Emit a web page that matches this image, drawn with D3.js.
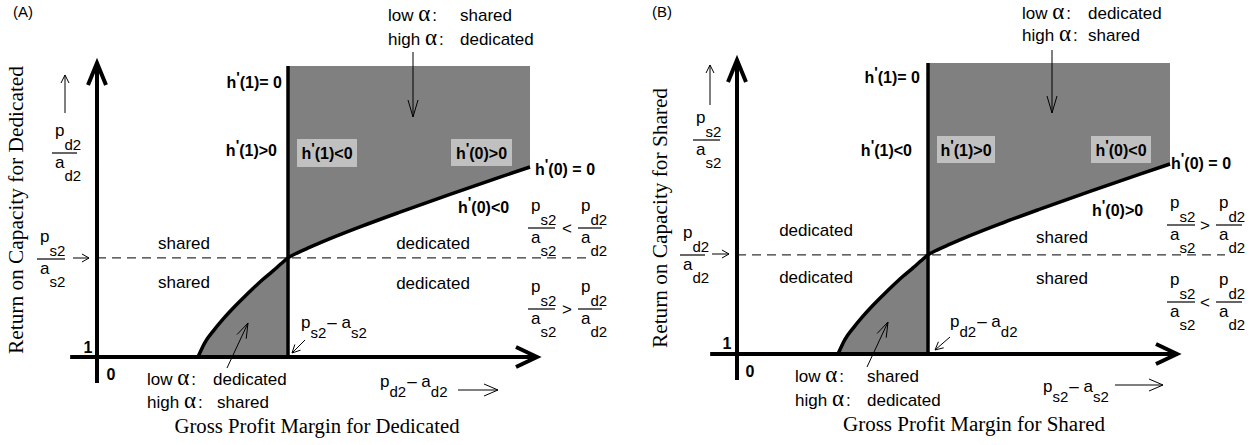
<!DOCTYPE html>
<html><head><meta charset="utf-8">
<script src="https://cdn.jsdelivr.net/npm/d3@7"></script>
<style>body{margin:0;background:#fff}svg{display:block}</style>
</head><body><svg id="c" width="1256" height="445"></svg>
<script>
// ---------- data ----------
const panelTags = ["(A)", "(B)"];
const yTitles = ["Return on Capacity for Dedicated", "Return on Capacity for Shared"];
const xTitles = ["Gross Profit Margin for Dedicated", "Gross Profit Margin for Shared"];
// boundary curve (abstract units): lower part up to the h'(1)=0 line, then h'(0)=0
const curveX = [2.295, 2.455, 2.636, 2.864, 3.091, 3.318, 3.545, 3.773, 4.000, 4.182, 4.341,
                4.568, 4.841, 5.295, 5.977, 6.886, 8.023, 9.159, 9.841];
const curveY = [1.000, 1.350, 1.610, 1.900, 2.160, 2.400, 2.630, 2.850, 3.050, 3.220, 3.360,
                3.486, 3.614, 3.817, 4.098, 4.450, 4.874, 5.283, 5.524];
const xBreak = 4.341, yBreak = 3.36, yTop = 7.93, xRight = 9.841;
const tickLabels = ["1", "0"];
const regionLeft = ["shared", "dedicated"];
const regionRight = ["dedicated", "shared"];
const topLow = ["shared", "dedicated"], topHigh = ["dedicated", "shared"];
const botLow = ["dedicated", "shared"], botHigh = ["shared", "dedicated"];
const hLeftLabels = [["h'(1)= 0", "h'(1)>0"], ["h'(1)= 0", "h'(1)<0"]];
const hBoxLabels = [["h'(1)<0", "h'(0)>0"], ["h'(1)>0", "h'(0)<0"]];
const hCurveLabels = [["h'(0) = 0", "h'(0)<0"], ["h'(0) = 0", "h'(0)>0"]];
const relSigns = [["<", ">"], [">", "<"]];
const axisRatio = [["p", "d2", "a", "d2"], ["p", "s2", "a", "s2"]];
const dashRatio = [["p", "s2", "a", "s2"], ["p", "d2", "a", "d2"]];
const nearMargin = [["p", "s2", "a", "s2"], ["p", "d2", "a", "d2"]];
const axisMargin = [["p", "d2", "a", "d2"], ["p", "s2", "a", "s2"]];

// ---------- setup ----------
const svg = d3.select("#c");
const SANS = "'Liberation Sans', Arial, sans-serif";
const SERIF = "'Liberation Serif', 'Times New Roman', serif";
const x = d3.scaleLinear().domain([0, 10]).range([97, 537]);
const y = d3.scaleLinear().domain([1, 8]).range([357, 63]);

const layouts = [
  { shift: [0, 0], tag: [13, 17], yTitle: [23, 210, 288], up: [65, 113, 75],
    axisFrac: [52, 77, 153], dashFrac: [37, 65, 259], dashArrow: [73, 89, 258],
    one: [88, 353], zero: [111, 380], regL: [184, 249, 288], regR: [433, 249, 289],
    rel: [528, 555, 567, 578, 602, 228, 309], hLeft: [282, 88, 277, 156],
    boxes: [[297, 139, 60, 28], [451, 139, 61, 27]], hCurve: [[535, 175], [458, 213]],
    top: [388, 460, 21, 45], topArrow: [413, 52, 413, 117],
    bot: [147, 213, 217, 385, 408], botArrow: [227, 368, 248, 323],
    near: [301, 328], nearArrow: [305, 340, 292, 353],
    axm: [380, 387], axmArrow: [458, 498, 390], xTitle: [317, 433, 285], dashEnd: 592 },
  { shift: [640, -3], tag: [652, 17], yTitle: [667, 218, 260], up: [710, 105, 65],
    axisFrac: [693, 720, 140], dashFrac: [680, 705, 255], dashArrow: [712, 729, 254],
    one: [727, 349], zero: [750, 377], regL: [816, 236, 283], regR: [1062, 243, 284],
    rel: [1167, 1195, 1205, 1216, 1242, 225, 302], hLeft: [920, 83, 912, 156],
    boxes: [[937, 136, 58, 27], [1091, 136, 60, 27]], hCurve: [[1171, 169], [1092, 216]],
    top: [1022, 1088, 19, 41], topArrow: [1052, 50, 1052, 113],
    bot: [795, 867, 867, 382, 406], botArrow: [867, 367, 888, 322],
    near: [950, 327], nearArrow: [950, 337, 935, 350],
    axm: [1043, 392], axmArrow: [1115, 1163, 385], xTitle: [974, 431, 262], dashEnd: 1225 }
];

// ---------- helpers ----------
function chevron(g, tx, ty, ang, len, half, sw) {
  const dx = Math.cos(ang), dy = Math.sin(ang);
  const bx = tx - dx * len, by = ty - dy * len;
  const px = -dy, py = dx;
  g.append("path")
    .attr("d", `M${bx + px * half},${by + py * half}L${tx},${ty}L${bx - px * half},${by - py * half}`)
    .attr("fill", "none").attr("stroke", "#000").attr("stroke-width", sw);
}
function arrow(g, x1, y1, x2, y2, len, half, sw) {
  g.append("line").attr("x1", x1).attr("y1", y1).attr("x2", x2).attr("y2", y2)
    .attr("stroke", "#000").attr("stroke-width", sw);
  chevron(g, x2, y2, Math.atan2(y2 - y1, x2 - x1), len, half, sw);
}
function hLabel(g, tx, ty, s, anchor) {
  const i = s.indexOf("'");
  const t = g.append("text").attr("x", tx).attr("y", ty).attr("text-anchor", anchor || "start")
    .attr("font-family", SANS).attr("font-weight", "bold").attr("font-size", 16);
  t.append("tspan").text(s.slice(0, i));
  t.append("tspan").attr("dy", -6).attr("font-size", 15).text("'");
  t.append("tspan").attr("dy", 6).text(s.slice(i + 1));
}
function frac(g, x0, x1, ly, r) {
  g.append("line").attr("x1", x0).attr("x2", x1).attr("y1", ly).attr("y2", ly)
    .attr("stroke", "#000").attr("stroke-width", 1.2);
  const n = g.append("text").attr("x", x0 + 3).attr("y", ly - 17)
    .attr("font-family", SANS).attr("font-size", 17);
  n.append("tspan").text(r[0]);
  n.append("tspan").attr("dy", 14).attr("font-size", 15).text(r[1]);
  const d = g.append("text").attr("x", x0 + 3).attr("y", ly + 15)
    .attr("font-family", SANS).attr("font-size", 17);
  d.append("tspan").text(r[2]);
  d.append("tspan").attr("dy", 13).attr("font-size", 15).text(r[3]);
}
function margin(g, tx, ty, r) {
  const t = g.append("text").attr("x", tx).attr("y", ty).attr("font-family", SANS).attr("font-size", 17);
  t.append("tspan").text(r[0]);
  t.append("tspan").attr("dy", 10).attr("font-size", 15).text(r[1]);
  t.append("tspan").attr("dy", -10).attr("dx", 1).text("\u2013  ");
  t.append("tspan").text(r[2]);
  t.append("tspan").attr("dy", 10).attr("font-size", 15).text(r[3]);
}
function alphaLine(g, tx, ty, pre, post, postX) {
  const t = g.append("text").attr("x", tx).attr("y", ty).attr("font-family", SANS).attr("font-size", 17);
  t.append("tspan").text(pre + " ");
  t.append("tspan").attr("font-family", SERIF).attr("font-size", 23).text("\u03b1");
  t.append("tspan").attr("dx", 2).text(":");
  t.append("tspan").attr("x", postX).text(post);
}
function plain(g, tx, ty, s, anchor) {
  g.append("text").attr("x", tx).attr("y", ty).attr("text-anchor", anchor || "middle")
    .attr("font-family", SANS).attr("font-size", 17).text(s);
}

const allPts = curveX.map((v, i) => ({ x: v, y: curveY[i] }));
const lowerPts = allPts.filter(d => d.x <= xBreak);
const upperPts = allPts.filter(d => d.x >= xBreak);

layouts.forEach((L, p) => {
  // ----- geometric part (scales) -----
  const g = svg.append("g").attr("transform", `translate(${L.shift[0]},${L.shift[1]})`);
  g.append("path").datum(upperPts)
    .attr("d", d3.area().x(d => x(d.x)).y0(d => y(d.y)).y1(y(yTop)).curve(d3.curveMonotoneX))
    .attr("fill", "#808080");
  g.append("path").datum(lowerPts)
    .attr("d", d3.area().x(d => x(d.x)).y0(y(1)).y1(d => y(d.y)).curve(d3.curveMonotoneX))
    .attr("fill", "#808080");
  g.append("line").attr("x1", x(0)).attr("x2", L.dashEnd - L.shift[0])
    .attr("y1", y(yBreak)).attr("y2", y(yBreak))
    .attr("stroke", "#333").attr("stroke-width", 1.3).attr("stroke-dasharray", "9,6");
  g.append("path").datum(allPts)
    .attr("d", d3.line().x(d => x(d.x)).y(d => y(d.y)).curve(d3.curveMonotoneX))
    .attr("fill", "none").attr("stroke", "#000").attr("stroke-width", 3.5);
  g.append("line").attr("x1", x(xBreak)).attr("x2", x(xBreak)).attr("y1", y(yTop)).attr("y2", y(1))
    .attr("stroke", "#000").attr("stroke-width", 3.5);
  g.append("line").attr("x1", x(0)).attr("x2", x(0)).attr("y1", y(0.38)).attr("y2", y(8))
    .attr("stroke", "#000").attr("stroke-width", 4);
  chevron(g, x(0), y(8), -Math.PI / 2, 22, 9, 4);
  g.append("line").attr("x1", x(-0.61)).attr("x2", x(10)).attr("y1", y(1)).attr("y2", y(1))
    .attr("stroke", "#000").attr("stroke-width", 4);
  chevron(g, x(10), y(1), 0, 21, 10, 4);

  // ----- labels -----
  const t = svg.append("g");
  t.append("text").attr("x", L.tag[0]).attr("y", L.tag[1]).attr("font-family", SANS)
    .attr("font-size", 15).text(panelTags[p]);
  t.append("text").attr("transform", `translate(${L.yTitle[0]},${L.yTitle[1]}) rotate(-90)`)
    .attr("text-anchor", "middle").attr("font-family", SERIF).attr("font-size", 20)
    .attr("textLength", L.yTitle[2]).attr("lengthAdjust", "spacingAndGlyphs").text(yTitles[p]);
  t.append("text").attr("x", L.xTitle[0]).attr("y", L.xTitle[1]).attr("text-anchor", "middle")
    .attr("font-family", SERIF).attr("font-size", 20)
    .attr("textLength", L.xTitle[2]).attr("lengthAdjust", "spacingAndGlyphs").text(xTitles[p]);
  arrow(t, L.up[0], L.up[1], L.up[0], L.up[2], 8, 4, 1);
  frac(t, L.axisFrac[0], L.axisFrac[1], L.axisFrac[2], axisRatio[p]);
  frac(t, L.dashFrac[0], L.dashFrac[1], L.dashFrac[2], dashRatio[p]);
  arrow(t, L.dashArrow[0], L.dashArrow[2], L.dashArrow[1], L.dashArrow[2], 7, 4, 1);
  t.append("text").attr("x", L.one[0]).attr("y", L.one[1]).attr("text-anchor", "middle")
    .attr("font-family", SANS).attr("font-weight", "bold").attr("font-size", 16).text(tickLabels[0]);
  t.append("text").attr("x", L.zero[0]).attr("y", L.zero[1]).attr("text-anchor", "middle")
    .attr("font-family", SANS).attr("font-weight", "bold").attr("font-size", 16).text(tickLabels[1]);
  plain(t, L.regL[0], L.regL[1], regionLeft[p]);
  plain(t, L.regL[0], L.regL[2], regionLeft[p]);
  plain(t, L.regR[0], L.regR[1], regionRight[p]);
  plain(t, L.regR[0], L.regR[2], regionRight[p]);
  [0, 1].forEach(k => {
    const ly = L.rel[5 + k];
    frac(t, L.rel[0], L.rel[1], ly, ["p", "s2", "a", "s2"]);
    frac(t, L.rel[3], L.rel[4], ly, ["p", "d2", "a", "d2"]);
    t.append("text").attr("x", L.rel[2]).attr("y", ly + 6).attr("text-anchor", "middle")
      .attr("font-family", SANS).attr("font-size", 17).text(relSigns[p][k]);
  });
  hLabel(t, L.hLeft[0], L.hLeft[1], hLeftLabels[p][0], "end");
  hLabel(t, L.hLeft[2], L.hLeft[3], hLeftLabels[p][1], "end");
  L.boxes.forEach((b, k) => {
    t.append("rect").attr("x", b[0]).attr("y", b[1]).attr("width", b[2]).attr("height", b[3]).attr("fill", "#c0c0c0");
    hLabel(t, b[0] + b[2] / 2, b[1] + b[3] / 2 + 6, hBoxLabels[p][k], "middle");
  });
  hLabel(t, L.hCurve[0][0], L.hCurve[0][1], hCurveLabels[p][0], "start");
  hLabel(t, L.hCurve[1][0], L.hCurve[1][1], hCurveLabels[p][1], "start");
  alphaLine(t, L.top[0], L.top[2], "low", topLow[p], L.top[1]);
  alphaLine(t, L.top[0], L.top[3], "high", topHigh[p], L.top[1]);
  arrow(t, L.topArrow[0], L.topArrow[1], L.topArrow[2], L.topArrow[3], 17, 5, 1);
  alphaLine(t, L.bot[0], L.bot[3], "low", botLow[p], L.bot[1]);
  alphaLine(t, L.bot[0], L.bot[4], "high", botHigh[p], L.bot[2]);
  arrow(t, L.botArrow[0], L.botArrow[1], L.botArrow[2], L.botArrow[3], 15, 5, 1);
  margin(t, L.near[0], L.near[1], nearMargin[p]);
  arrow(t, L.nearArrow[0], L.nearArrow[1], L.nearArrow[2], L.nearArrow[3], 8, 4, 1);
  margin(t, L.axm[0], L.axm[1], axisMargin[p]);
  arrow(t, L.axmArrow[0], L.axmArrow[2], L.axmArrow[1], L.axmArrow[2], 14, 6, 1);
});
</script></body></html>
